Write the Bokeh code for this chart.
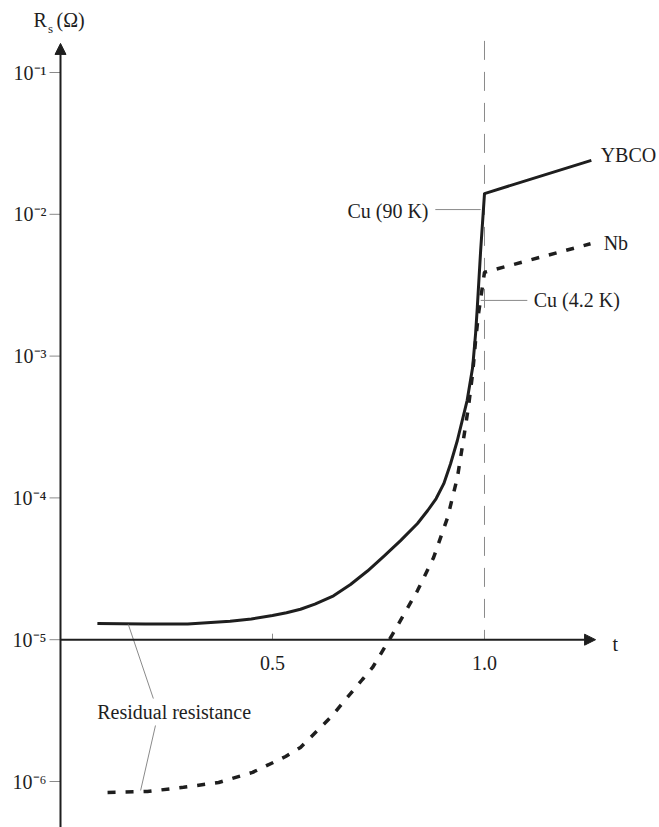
import math
from bokeh.plotting import figure
from bokeh.models import Range1d, Arrow, NormalHead
from bokeh.embed import file_html
from bokeh.resources import INLINE
from bokeh.core.properties import value

# ---------------- data ----------------
ybco_t = [0.087, 0.20, 0.30, 0.40, 0.45, 0.50, 0.533, 0.566, 0.60, 0.644,
          0.684, 0.724, 0.763, 0.802, 0.842, 0.866, 0.886, 0.904, 0.920, 0.936,
          0.959, 0.972, 0.979, 0.983, 0.991, 1.000, 1.252]
ybco_rs = [1.30e-5, 1.29e-5, 1.29e-5, 1.35e-5, 1.40e-5, 1.48e-5, 1.55e-5, 1.64e-5,
           1.78e-5, 2.04e-5, 2.45e-5, 3.05e-5, 3.89e-5, 5.0e-5, 6.6e-5, 8.15e-5,
           9.9e-5, 1.26e-4, 1.74e-4, 2.54e-4, 4.86e-4, 8.3e-4, 1.44e-3, 2.2e-3,
           5.6e-3, 1.40e-2, 2.4e-2]

nb_t = [0.111, 0.205, 0.290, 0.373, 0.453, 0.531, 0.566, 0.637, 0.712, 0.736,
        0.783, 0.842, 0.880, 0.913, 0.936, 0.950, 0.962, 0.972, 0.979, 0.986,
        1.000, 1.250]
nb_rs = [8.36e-7, 8.5e-7, 9.1e-7, 9.84e-7, 1.16e-6, 1.50e-6, 1.74e-6, 2.83e-6,
         5.24e-6, 6.37e-6, 1.09e-5, 2.22e-5, 3.80e-5, 7.28e-5, 1.39e-4, 2.54e-4,
         4.35e-4, 7.53e-4, 1.29e-3, 2.0e-3, 3.9e-3, 6.2e-3]

t_c = 1.0
cu_90k_rs = 1.08e-2
cu_42k_rs = 2.47e-3
residual_ybco = (0.160, 1.28e-5)
residual_nb = (0.189, 8.65e-7)

y_ticks = [1e-6, 1e-5, 1e-4, 1e-3, 1e-2, 1e-1]
y_tick_labels = ["10\u207b\u2076", "10\u207b\u2075", "10\u207b\u2074",
                 "10\u207b\u00b3", "10\u207b\u00b2", "10\u207b\u00b9"]
x_ticks = [0.5, 1.0]
x_tick_labels = ["0.5", "1.0"]

# ---------------- layout / style ----------------
FONT = "Liberation Serif"
INK = "#1e1e1e"
GREY = "#8a8a8a"
X_START, X_END = -0.14151, 1.41274
Y_BOT, Y_TOP = 10 ** -6.3244, 10 ** -0.4922
Y_ARROW = 10 ** -0.795      # tip of the vertical axis arrow
X_ARROW = 1.262             # tip of the horizontal axis arrow
Y_XLAB = 10 ** -5.161       # row of the x tick labels
Y_TITLE = 10 ** -0.633

p = figure(width=659, height=827,
           x_range=Range1d(X_START, X_END), y_range=Range1d(Y_BOT, Y_TOP),
           y_axis_type="log", x_axis_location=None, y_axis_location=None,
           output_backend="svg", toolbar_location=None,
           min_border=0)
p.grid.visible = False
p.outline_line_color = None
p.background_fill_color = "white"
p.border_fill_color = "white"

txt = dict(text_font=value(FONT), text_font_size="20px", text_color=INK,
           text_baseline="middle")

# ---- vertical axis (t = 0) with arrow, ticks, labels and title ----
p.add_layout(Arrow(end=NormalHead(size=11, fill_color=INK, line_color=INK),
                   x_start=0, y_start=Y_BOT, x_end=0, y_end=Y_ARROW,
                   line_color=INK, line_width=2))
p.ray(x=[0] * len(y_ticks), y=y_ticks, length=11, length_units="screen",
      angle=math.pi, line_color=GREY, line_width=1)
p.text(x=[0] * len(y_ticks), y=y_ticks, text=y_tick_labels, x_offset=-14,
       text_align="right", **txt)
p.text(x=[0], y=[Y_TITLE], text=["R"], x_offset=-27, text_align="left", **txt)
p.text(x=[0], y=[10 ** -0.690], text=["s"], x_offset=-12.5, text_align="left",
       text_font=value(FONT), text_font_size="13px", text_color=INK,
       text_baseline="middle")
p.text(x=[0], y=[Y_TITLE], text=["(\u03a9)"], x_offset=-4, text_align="left", **txt)

# ---- horizontal axis (Rs = 1e-5) with arrow, ticks and labels ----
p.add_layout(Arrow(end=NormalHead(size=11, fill_color=INK, line_color=INK),
                   x_start=0, y_start=y_ticks[1], x_end=X_ARROW, y_end=y_ticks[1],
                   line_color=INK, line_width=2))
p.ray(x=x_ticks, y=[y_ticks[1]] * len(x_ticks), length=6, length_units="screen",
      angle=math.pi / 2, line_color=GREY, line_width=1)
p.text(x=x_ticks, y=[Y_XLAB] * len(x_ticks), text=x_tick_labels,
       text_align="center", **txt)
p.text(x=[1.302], y=[10 ** -5.03], text=["t"], text_align="left", **txt)

# dashed vertical line at t = 1
p.segment(x0=[t_c], y0=[10 ** -0.777], x1=[t_c], y1=[y_ticks[1]],
          line_color=GREY, line_width=1, line_dash="19 12")

# ---- curves ----
p.line(nb_t, nb_rs, line_color=INK, line_width=3.5, line_dash="8 10")
p.line(ybco_t, ybco_rs, line_color=INK, line_width=3, line_join="round")

# ---- Cu markers ----
p.segment(x0=[0.884, 0.991], y0=[cu_90k_rs, cu_42k_rs],
          x1=[0.991, 1.101], y1=[cu_90k_rs, cu_42k_rs],
          line_color=GREY, line_width=1)
p.text(x=[0.868], y=[cu_90k_rs * 0.97], text=["Cu (90 K)"], text_align="right", **txt)
p.text(x=[1.116], y=[cu_42k_rs], text=["Cu (4.2 K)"], text_align="left", **txt)

# ---- series labels ----
p.text(x=[1.274, 1.281], y=[10 ** -1.585, 10 ** -2.199], text=["YBCO", "Nb"],
       text_align="left", **txt)

# ---- residual resistance ----
p.segment(x0=[residual_ybco[0], 0.224], y0=[residual_ybco[1], 10 ** -5.605],
          x1=[0.219, residual_nb[0]], y1=[10 ** -5.415, residual_nb[1]],
          line_color=GREY, line_width=1)
p.text(x=[0.268], y=[10 ** -5.513], text=["Residual resistance"],
       text_align="center", **txt)

open("out.html", "w").write(file_html(p, INLINE))
